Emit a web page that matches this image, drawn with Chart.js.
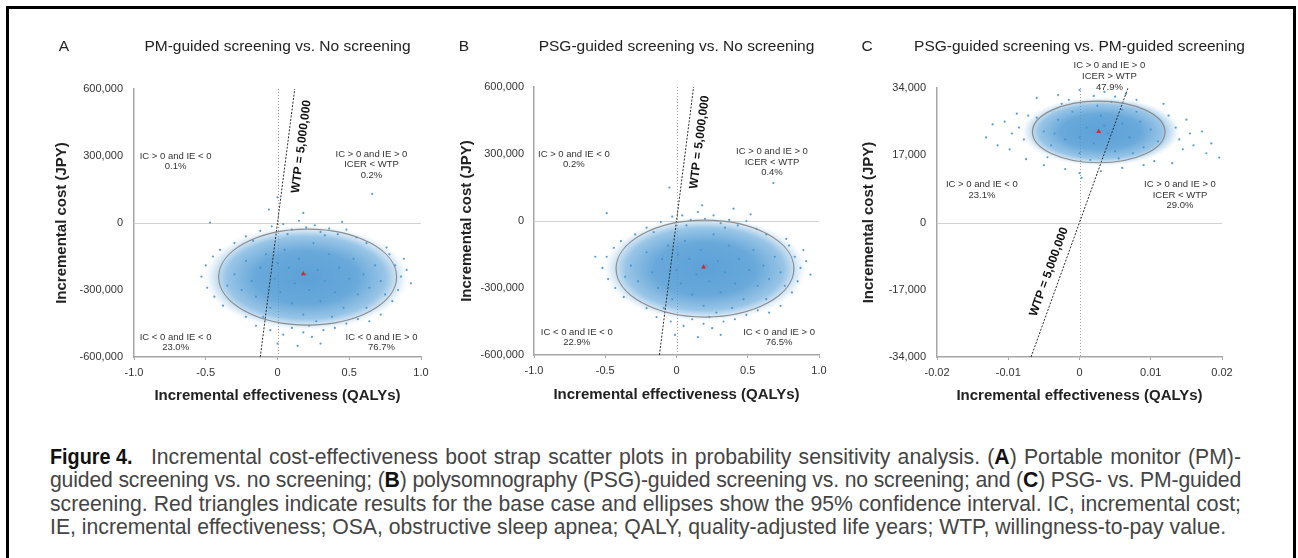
<!DOCTYPE html>
<html>
<head>
<meta charset="utf-8">
<script src="https://cdn.jsdelivr.net/npm/chart.js@4.4.0/dist/chart.umd.min.js"></script>
<style>
  body { margin: 0; background: #fff; width: 1298px; height: 558px; overflow: hidden; position: relative;
         font-family: "Liberation Sans", Arial, sans-serif; }
  .frame { position: absolute; left: 6px; top: 6px; width: 1284px; height: 600px;
           border: 3px solid #000; border-bottom: none; }
  canvas { position: absolute; top: 0; }
  #panelA { left: 0; }
  #panelB { left: 430px; }
  #panelC { left: 850px; }
  .caption { position: absolute; left: 50px; top: 445px; width: 1191px; font-size: 21.2px; line-height: 23.4px; color: #444; }
  .caption div { white-space: nowrap; }
  .caption .j { text-align: justify; text-align-last: justify; }
  .caption .tight { letter-spacing: -0.17px; }
  .caption .fig { display: inline-block; font-weight: bold; font-size: 22px; line-height: 1; color: #111;
                  transform: scaleX(0.9); transform-origin: left center; margin-right: 2px; }
  .caption b { color: #111; }
</style>
</head>
<body>
<div class="frame"></div>
<canvas id="panelA" width="440" height="420"></canvas>
<canvas id="panelB" width="420" height="420"></canvas>
<canvas id="panelC" width="448" height="420"></canvas>

<div class="caption">
  <div class="j"><span class="fig">Figure 4.</span> Incremental cost-effectiveness boot strap scatter plots in probability sensitivity analysis. (<b>A</b>) Portable monitor (PM)-</div>
  <div class="j tight">guided screening vs. no screening; (<b>B</b>) polysomnography (PSG)-guided screening vs. no screening; and (<b>C</b>) PSG- vs. PM-guided</div>
  <div class="j">screening. Red triangles indicate results for the base case and ellipses show the 95% confidence interval. IC, incremental cost;</div>
  <div>IE, incremental effectiveness; OSA, obstructive sleep apnea; QALY, quality-adjusted life years; WTP, willingness-to-pay value.</div>
</div>

<script>
// ---------- data ----------
// axis ticks
const xTicksAB = [-1, -0.5, 0, 0.5, 1];
const xTickLabelsAB = ["-1.0", "-0.5", "0", "0.5", "1.0"];
const yTicksAB = [-600000, -300000, 0, 300000, 600000];
const yTickLabelsAB = ["-600,000", "-300,000", "0", "300,000", "600,000"];
const xTicksC = [-0.02, -0.01, 0, 0.01, 0.02];
const xTickLabelsC = ["-0.02", "-0.01", "0", "0.01", "0.02"];
const yTicksC = [-34000, -17000, 0, 17000, 34000];
const yTickLabelsC = ["-34,000", "-17,000", "0", "17,000", "34,000"];

// base case (red triangle): [QALY, JPY]
const baseCaseA = [0.18, -228000];
const baseCaseB = [0.19, -206000];
const baseCaseC = [0.0027, 23000];

// 95% confidence ellipse: [centre x, centre y, half width, half height]
const ellipseA = [0.21, -242000, 0.62, 215000];
const ellipseB = [0.20, -213000, 0.624, 217000];
const ellipseC = [0.0027, 22900, 0.0093, 7800];

// dense part of the bootstrap cloud: [centre x, centre y, half width, half height]
const coreA = [0.20, -245000, 0.62, 205000];
const coreB = [0.20, -215000, 0.62, 205000];
const coreC = [0.0030, 23000, 0.0097, 7600];

// WTP = 5,000,000 JPY/QALY line end points
const wtpLineAB = [[-0.12, -600000], [0.12, 600000]];
const wtpLineC = [[-0.0068, -34000], [0.0068, 34000]];

// quadrant notes
const notesA = [["IC > 0 and IE < 0", "0.1%"], ["IC > 0 and IE > 0", "ICER < WTP", "0.2%"],
                ["IC < 0 and IE < 0", "23.0%"], ["IC < 0 and IE > 0", "76.7%"]];
const notesB = [["IC > 0 and IE < 0", "0.2%"], ["IC > 0 and IE > 0", "ICER < WTP", "0.4%"],
                ["IC < 0 and IE < 0", "22.9%"], ["IC < 0 and IE > 0", "76.5%"]];
const notesC = [["IC > 0 and IE > 0", "ICER > WTP", "47.9%"], ["IC > 0 and IE < 0", "23.1%"],
                ["IC > 0 and IE > 0", "ICER < WTP", "29.0%"]];

// bootstrap replicates: [QALY, cost in thousand JPY]
const cloudA = [
  [-0.30,-230],[-0.25,-300],[-0.22,-170],[-0.18,-260],[-0.15,-330],[-0.12,-200],[-0.08,-140],[-0.05,-380],
  [-0.02,-250],[0.02,-310],[0.05,-120],[0.08,-200],[0.10,-360],[0.12,-270],[0.15,-160],[0.18,-410],
  [0.22,-300],[0.25,-90],[0.28,-210],[0.30,-350],[0.33,-260],[0.36,-140],[0.40,-310],[0.43,-200],
  [0.46,-380],[0.50,-250],[0.53,-160],[0.56,-320],[0.60,-230],[0.64,-290],[0.68,-190],[0.72,-260],
  [0.75,-320],[-0.35,-280],[0.00,-180],[0.20,-230],[0.38,-420],[-0.10,-420],[0.62,-380],[0.27,-440],
  [-0.53,-240],[-0.50,-190],[-0.49,-290],[-0.45,-150],[-0.44,-330],[-0.47,2],[-0.40,-120],[-0.38,-370],
  [-0.30,-90],[-0.22,-60],[-0.12,-35],[-0.04,-15],[0.00,115],[-0.06,60],[0.04,-5],[0.10,-30],
  [0.15,10],[0.20,-20],[0.26,-10],[0.30,-40],[0.36,-25],[0.42,-50],[0.48,-30],[0.55,-65],
  [0.62,-90],[0.07,-50],[0.33,-55],[-0.17,-80],[0.66,130],[0.18,45],[0.45,5],
  [0.78,-140],[0.82,-190],[0.86,-240],[0.90,-210],[0.84,-300],[0.80,-350],[0.93,-270],[0.76,-110],
  [0.72,-410],[0.88,-160],
  [-0.22,-420],[-0.15,-460],[-0.05,-480],[0.04,-500],[0.10,-470],[0.18,-490],[0.24,-510],[0.32,-480],
  [0.40,-470],[0.48,-450],[0.56,-430],[0.64,-440],[0.14,-550],[0.00,-540],[0.30,-540],[0.22,-460]
];
const cloudB = [
  [-0.32,-200],[-0.27,-270],[-0.21,-140],[-0.17,-230],[-0.13,-300],[-0.10,-170],[-0.06,-110],[-0.03,-350],
  [0.00,-220],[0.03,-280],[0.06,-90],[0.09,-170],[0.11,-330],[0.14,-240],[0.17,-130],[0.19,-380],
  [0.23,-270],[0.26,-60],[0.29,-180],[0.31,-320],[0.34,-230],[0.37,-110],[0.41,-280],[0.44,-170],
  [0.47,-350],[0.51,-220],[0.54,-130],[0.57,-290],[0.61,-200],[0.65,-260],[0.69,-160],[0.73,-230],
  [0.76,-290],[-0.36,-250],[0.01,-150],[0.21,-200],[0.39,-390],[-0.09,-390],[0.63,-350],[0.28,-410],
  [-0.52,-210],[-0.49,-160],[-0.48,-260],[-0.44,-120],[-0.43,-300],[-0.39,-90],[-0.37,-340],[-0.57,-160],
  [-0.49,35],
  [-0.29,-60],[-0.21,-30],[-0.11,-5],[-0.03,20],[-0.05,150],[0.04,25],[0.10,5],[0.15,40],
  [0.20,10],[0.26,25],[0.31,-10],[0.37,5],[0.43,-20],[0.49,0],[0.56,-35],[0.63,-60],
  [0.07,-20],[0.34,-30],[-0.16,-50],[0.68,170],[0.40,55],[0.52,30],[0.18,70],
  [0.79,-110],[0.83,-160],[0.87,-210],[0.91,-180],[0.85,-270],[0.81,-320],[0.94,-240],[0.77,-80],
  [0.73,-380],[0.89,-130],
  [-0.21,-390],[-0.14,-430],[-0.04,-450],[0.05,-470],[0.11,-440],[0.19,-460],[0.25,-480],[0.33,-450],
  [0.41,-440],[0.49,-420],[0.57,-400],[0.65,-410],[-0.01,-510],[0.31,-510],[0.23,-430],[0.15,-520]
];
const cloudC = [
  [-0.005,23],[-0.004,19.5],[-0.003,26],[-0.002,21],[-0.001,28],[0.000,17.5],[0.001,24],[0.002,20],
  [0.003,27],[0.004,22.5],[0.005,18],[0.006,25],[0.007,21.5],[0.008,28],[0.009,19],[-0.006,26.5],
  [0.010,23.5],[0.011,20.5],[-0.0045,16.5],[0.0025,29.5],[0.0055,16.2],[-0.0025,30],[0.0085,25.5],
  [0.0015,15.8],[0.0045,30.5],[-0.0035,22.5],[0.0075,17.5],[0.000,21.5],[0.0035,24.5],[0.006,28.5],
  [-0.0085,24],[-0.0078,21],[-0.0072,27],[-0.0095,22.5],[-0.0105,25.5],[-0.0115,19.5],[-0.0131,21.5],
  [-0.0122,24.8],[-0.0098,18.5],[-0.0088,27.5],
  [-0.006,31.5],[-0.003,32.2],[0.000,33.5],[0.002,32],[0.005,31.8],[0.008,31],[-0.0015,31],[0.0035,33],
  [0.0065,32.5],
  [0.0125,27],[0.0135,24],[0.014,21],[0.0145,18.5],[0.0155,22.5],[0.016,19.5],[0.0172,23],[0.0185,20],
  [0.0196,16.4],[0.0178,17.5],[0.013,15],[0.0118,30],[0.015,26],
  [-0.005,14.5],[-0.002,13.5],[0.000,12.5],[0.0003,11.3],[0.003,13],[0.006,13.8],[0.009,14.5],
  [-0.0075,16],[0.0105,15.5]
];

// ---------- layout of the three panels ----------
const FONT = '"Liberation Sans", Arial, sans-serif';

const panels = [
  { id: "panelA", letter: "A", letterX: 64, title: "PM-guided screening vs. No screening",
    pad: { left: 53, right: 19, top: 89, bottom: 15 }, yW: 81, xH: 48, tickPad: 11,
    xMin: -1, xMax: 1, yMin: -600000, yMax: 600000,
    xTicks: xTicksAB, xLabels: xTickLabelsAB, yTicks: yTicksAB, yLabels: yTickLabelsAB,
    cloud: cloudA, base: baseCaseA, ellipse: ellipseA, core: coreA, wtp: wtpLineAB,
    notes: notesA, notePos: [[-0.71, 300000], [0.655, 309000], [-0.71, -510000], [0.725, -510000]],
    wtpLabel: { at: [0.07, 350000], offset: 14 } },
  { id: "panelB", letter: "B", letterX: 34, title: "PSG-guided screening vs. No screening",
    pad: { left: 28, right: 31, top: 87, bottom: 16 }, yW: 76, xH: 49, tickPad: 10,
    xMin: -1, xMax: 1, yMin: -600000, yMax: 600000,
    xTicks: xTicksAB, xLabels: xTickLabelsAB, yTicks: yTicksAB, yLabels: yTickLabelsAB,
    cloud: cloudB, base: baseCaseB, ellipse: ellipseB, core: coreB, wtp: wtpLineAB,
    notes: notesB, notePos: [[-0.72, 300000], [0.67, 313000], [-0.70, -497000], [0.72, -497000]],
    wtpLabel: { at: [0.072, 360000], offset: 13 } },
  { id: "panelC", letter: "C", letterX: 17, title: "PSG-guided screening vs. PM-guided screening",
    pad: { left: 10, right: 76, top: 88, bottom: 15 }, yW: 77, xH: 48, tickPad: 11,
    xMin: -0.02, xMax: 0.02, yMin: -34000, yMax: 34000,
    xTicks: xTicksC, xLabels: xTickLabelsC, yTicks: yTicksC, yLabels: yTickLabelsC,
    cloud: cloudC, base: baseCaseC, ellipse: ellipseC, core: coreC, wtp: wtpLineC,
    notes: notesC, notePos: [[0.0042, 39600], [-0.0137, 9700], [0.0141, 9700]],
    wtpLabel: { at: [-0.0027, -13500], offset: -12 } }
];

// draws zero lines, cloud density, ellipse, notes, titles
function decor(p) {
  return {
    id: "decor" + p.letter,
    beforeDatasetsDraw(chart) {
      const { ctx, chartArea: a, scales: { x, y } } = chart;
      ctx.save();
      ctx.beginPath();
      ctx.rect(a.left, a.top, a.right - a.left, a.bottom - a.top);
      ctx.clip();

      const y0 = Math.round(y.getPixelForValue(0)) + 0.5;
      const x0 = Math.round(x.getPixelForValue(0)) + 0.5;
      ctx.lineWidth = 1;
      ctx.strokeStyle = "#d2d2d2";
      ctx.beginPath(); ctx.moveTo(a.left, y0); ctx.lineTo(a.right, y0); ctx.stroke();
      ctx.strokeStyle = "#a0a0a0";
      ctx.setLineDash([1, 2]);
      ctx.beginPath(); ctx.moveTo(x0, a.top); ctx.lineTo(x0, a.bottom); ctx.stroke();
      ctx.setLineDash([]);

      // the many overlapping replicates, as a soft blue mass
      const cx = x.getPixelForValue(p.core[0]), cy = y.getPixelForValue(p.core[1]);
      const rx = Math.abs(x.getPixelForValue(p.core[0] + p.core[2]) - cx);
      const ry = Math.abs(y.getPixelForValue(p.core[1] + p.core[3]) - cy);
      ctx.translate(cx, cy);
      ctx.scale(rx, ry);
      const g = ctx.createRadialGradient(0, 0, 0, 0, 0, 1.15);
      g.addColorStop(0, "rgba(74,151,211,0.9)");
      g.addColorStop(0.5, "rgba(76,152,211,0.84)");
      g.addColorStop(0.78, "rgba(84,158,214,0.6)");
      g.addColorStop(0.88, "rgba(92,163,216,0.32)");
      g.addColorStop(0.96, "rgba(96,166,218,0.08)");
      g.addColorStop(1, "rgba(96,166,218,0)");
      ctx.fillStyle = g;
      ctx.beginPath(); ctx.arc(0, 0, 1.15, 0, Math.PI * 2); ctx.fill();
      ctx.restore();
    },
    afterDatasetsDraw(chart) {
      const { ctx, scales: { x, y } } = chart;
      ctx.save();
      // 95% ellipse
      const e = p.ellipse;
      const ex = x.getPixelForValue(e[0]), ey = y.getPixelForValue(e[1]);
      const erx = Math.abs(x.getPixelForValue(e[0] + e[2]) - ex);
      const ery = Math.abs(y.getPixelForValue(e[1] + e[3]) - ey);
      ctx.strokeStyle = "#8c8c8c";
      ctx.lineWidth = 1.2;
      ctx.beginPath(); ctx.ellipse(ex, ey, erx, ery, 0, 0, Math.PI * 2); ctx.stroke();

      // quadrant notes
      ctx.fillStyle = "#333";
      ctx.font = "9.5px " + FONT;
      ctx.textAlign = "center";
      ctx.textBaseline = "middle";
      p.notes.forEach((lines, i) => {
        const nx = x.getPixelForValue(p.notePos[i][0]);
        const ny = y.getPixelForValue(p.notePos[i][1]);
        lines.forEach((t, k) => ctx.fillText(t, nx, ny + k * 10.8));
      });

      // WTP label along the line
      const x1 = x.getPixelForValue(p.wtp[0][0]), y1 = y.getPixelForValue(p.wtp[0][1]);
      const x2 = x.getPixelForValue(p.wtp[1][0]), y2 = y.getPixelForValue(p.wtp[1][1]);
      const ang = Math.atan2(y2 - y1, x2 - x1);
      ctx.translate(x.getPixelForValue(p.wtpLabel.at[0]), y.getPixelForValue(p.wtpLabel.at[1]));
      ctx.rotate(ang);
      ctx.font = "bold 12px " + FONT;
      ctx.fillStyle = "#111";
      ctx.fillText("WTP = 5,000,000", 0, p.wtpLabel.offset);
      ctx.restore();
    },
    afterDraw(chart) {
      const { ctx, chartArea: a } = chart;
      ctx.save();
      ctx.fillStyle = "#222";
      ctx.font = "15.5px " + FONT;
      ctx.textBaseline = "middle";
      ctx.textAlign = "center";
      ctx.fillText(p.title, (a.left + a.right) / 2, 47);
      ctx.fillText(p.letter, p.letterX, 47);
      ctx.restore();
    }
  };
}

panels.forEach((p) => {
  new Chart(document.getElementById(p.id), {
    type: "scatter",
    data: {
      datasets: [
        { // base case
          data: [{ x: p.base[0], y: p.base[1] }],
          pointStyle: "triangle", pointRadius: 2.8, backgroundColor: "#e0241f", borderWidth: 0, order: 0
        },
        { // WTP threshold
          data: p.wtp.map((d) => ({ x: d[0], y: d[1] })),
          showLine: true, borderColor: "#2a2a2a", borderWidth: 1, borderDash: [2, 1.5],
          pointRadius: 0, order: 1
        },
        { // bootstrap replicates
          data: p.cloud.map((d) => ({ x: d[0], y: d[1] * 1000 })),
          pointRadius: 1.1, backgroundColor: "rgba(66,146,208,0.9)", borderWidth: 0, order: 2
        }
      ]
    },
    options: {
      responsive: false,
      animation: false,
      events: [],
      layout: { padding: p.pad },
      plugins: { legend: { display: false }, tooltip: { enabled: false } },
      scales: {
        x: {
          type: "linear", min: p.xMin, max: p.xMax,
          afterBuildTicks: (s) => { s.ticks = p.xTicks.map((v) => ({ value: v })); },
          afterFit: (s) => { s.height = p.xH; },
          ticks: { callback: (v, i) => p.xLabels[i], font: { size: 11, family: FONT }, color: "#333",
                   padding: 6, maxRotation: 0, autoSkip: false },
          grid: { display: true, drawOnChartArea: false, drawTicks: true, tickLength: 3, color: "#a6a6a6" },
          border: { display: true, color: "#a6a6a6", width: 1.5 },
          title: { display: true, text: "Incremental effectiveness (QALYs)", color: "#222",
                   font: { size: 15, weight: "bold", family: FONT }, padding: { top: 0, bottom: 0 } }
        },
        y: {
          type: "linear", min: p.yMin, max: p.yMax,
          afterBuildTicks: (s) => { s.ticks = p.yTicks.map((v) => ({ value: v })); },
          afterFit: (s) => { s.width = p.yW; },
          ticks: { callback: (v, i) => p.yLabels[i], font: { size: 11, family: FONT }, color: "#333",
                   padding: p.tickPad, autoSkip: false },
          grid: { display: false, drawTicks: false },
          border: { display: true, color: "#a6a6a6", width: 1.5 },
          title: { display: true, text: "Incremental cost (JPY)", color: "#222",
                   font: { size: 15, weight: "bold", family: FONT }, padding: { top: 0, bottom: 0 } }
        }
      }
    },
    plugins: [decor(p)]
  });
});
</script>
</body>
</html>
